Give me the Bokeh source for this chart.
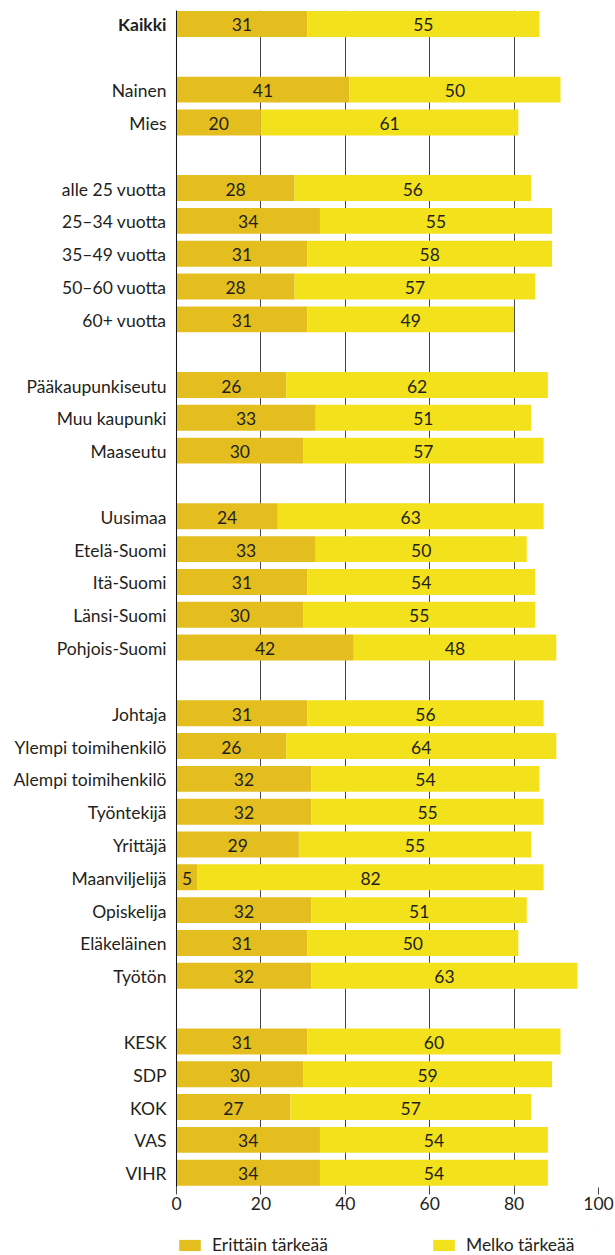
from bokeh.plotting import figure
from bokeh.layouts import column
from bokeh.models import (ColumnDataSource, Range1d, FixedTicker, Legend, LegendItem, Span)
from bokeh.core.properties import value
from bokeh.embed import file_html
from bokeh.resources import INLINE

categories = ["Kaikki",
              "Nainen", "Mies",
              "alle 25 vuotta", "25–34 vuotta", "35–49 vuotta", "50–60 vuotta", "60+ vuotta",
              "Pääkaupunkiseutu", "Muu kaupunki", "Maaseutu",
              "Uusimaa", "Etelä-Suomi", "Itä-Suomi", "Länsi-Suomi", "Pohjois-Suomi",
              "Johtaja", "Ylempi toimihenkilö", "Alempi toimihenkilö", "Työntekijä", "Yrittäjä",
              "Maanviljelijä", "Opiskelija", "Eläkeläinen", "Työtön",
              "KESK", "SDP", "KOK", "VAS", "VIHR"]
group_sizes = [1, 2, 5, 3, 5, 9, 5]
erittain = [31, 41, 20, 28, 34, 31, 28, 31, 26, 33, 30, 24, 33, 31, 30, 42,
            31, 26, 32, 32, 29, 5, 32, 31, 32, 31, 30, 27, 34, 34]
melko = [55, 50, 61, 56, 55, 58, 57, 49, 62, 51, 57, 63, 50, 54, 55, 48,
         56, 64, 54, 55, 55, 82, 51, 50, 63, 60, 59, 57, 54, 54]
series_names = ["Erittäin tärkeää", "Melko tärkeää"]
x_ticks = [0, 20, 40, 60, 80, 100]

# row positions with one blank row between groups
rows = []
r = 0
for g in group_sizes:
    for _ in range(g):
        rows.append(r)
        r += 1
    r += 1

DARK = "#E4BE1F"
LIGHT = "#F2E11B"
TXT = "#231F20"
FONT = "Lato"
FS = "17.5px"

src = ColumnDataSource(dict(
    y=rows, cat=categories,
    style=["bold"] + ["normal"] * (len(categories) - 1),
    e_end=erittain,
    m_end=[a + b for a, b in zip(erittain, melko)],
    e_mid=[a / 2 for a in erittain],
    m_mid=[a + b / 2 for a, b in zip(erittain, melko)],
    e_lab=[str(v) for v in erittain],
    m_lab=[str(v) for v in melko],
))

# frame spans the whole width; the negative x region holds the category labels
p = figure(width=615, height=1224, output_backend="svg", toolbar_location=None,
           x_range=Range1d(-41.7, 100), y_range=Range1d(35.45, -0.41),
           min_border_left=0, min_border_right=17, min_border_top=10, min_border_bottom=37)
p.outline_line_color = None
p.yaxis.visible = False

r1 = p.hbar(y="y", left=0, right="e_end", height=0.79, source=src, color=DARK, line_color=None)
r2 = p.hbar(y="y", left="e_end", right="m_end", height=0.79, source=src, color=LIGHT, line_color=None)

for col, lab in (("e_mid", "e_lab"), ("m_mid", "m_lab")):
    p.text(x=col, y="y", text=lab, source=src, text_align="center", text_baseline="middle",
           text_font=value(FONT), text_font_size=FS, text_color=TXT, y_offset=1)

# category labels
p.text(x=0, y="y", text="cat", source=src, x_offset=-10, text_align="right",
       text_baseline="middle", text_font=value(FONT), text_font_size=FS,
       text_font_style="style", text_color=TXT, y_offset=1)

p.add_layout(Span(location=0, dimension="height", line_color="#111111", line_width=1))

# x axis
p.xaxis.ticker = FixedTicker(ticks=x_ticks)
p.xgrid.ticker = FixedTicker(ticks=x_ticks)
p.xaxis.axis_line_color = None
p.xaxis.major_tick_out = 7
p.xaxis.major_tick_in = 0
p.xaxis.minor_tick_line_color = None
p.xaxis.major_tick_line_color = "#444444"
p.xaxis.major_label_standoff = 2
p.xaxis.major_label_text_font = FONT
p.xaxis.major_label_text_font_size = FS
p.xaxis.major_label_text_color = TXT
p.xgrid.grid_line_color = "#444444"
p.xgrid.grid_line_width = 1
p.ygrid.grid_line_color = None

# legend strip below the chart (its swatch renderers sit outside the visible range)
pl = figure(width=615, height=31, output_backend="svg", toolbar_location=None,
            x_range=Range1d(0, 1), y_range=Range1d(0, 1),
            min_border_left=0, min_border_right=0, min_border_top=0, min_border_bottom=0)
pl.outline_line_color = None
pl.xaxis.visible = False
pl.yaxis.visible = False
pl.grid.visible = False
l1 = pl.hbar(y=[10], left=[10], right=[11], height=1, color=DARK, line_color=None)
l2 = pl.hbar(y=[10], left=[10], right=[11], height=1, color=LIGHT, line_color=None)
legend = Legend(items=[LegendItem(label=series_names[0], renderers=[l1]),
                       LegendItem(label=series_names[1], renderers=[l2])],
                orientation="horizontal", location=(176, 0), padding=0, margin=0,
                spacing=102, glyph_width=27, glyph_height=14, label_standoff=9,
                label_text_font=FONT, label_text_font_size=FS, label_text_color=TXT,
                border_line_color=None, background_fill_alpha=0)
pl.add_layout(legend, "center")

layout = column(p, pl, spacing=0)
open("out.html", "w").write(file_html(layout, INLINE))
